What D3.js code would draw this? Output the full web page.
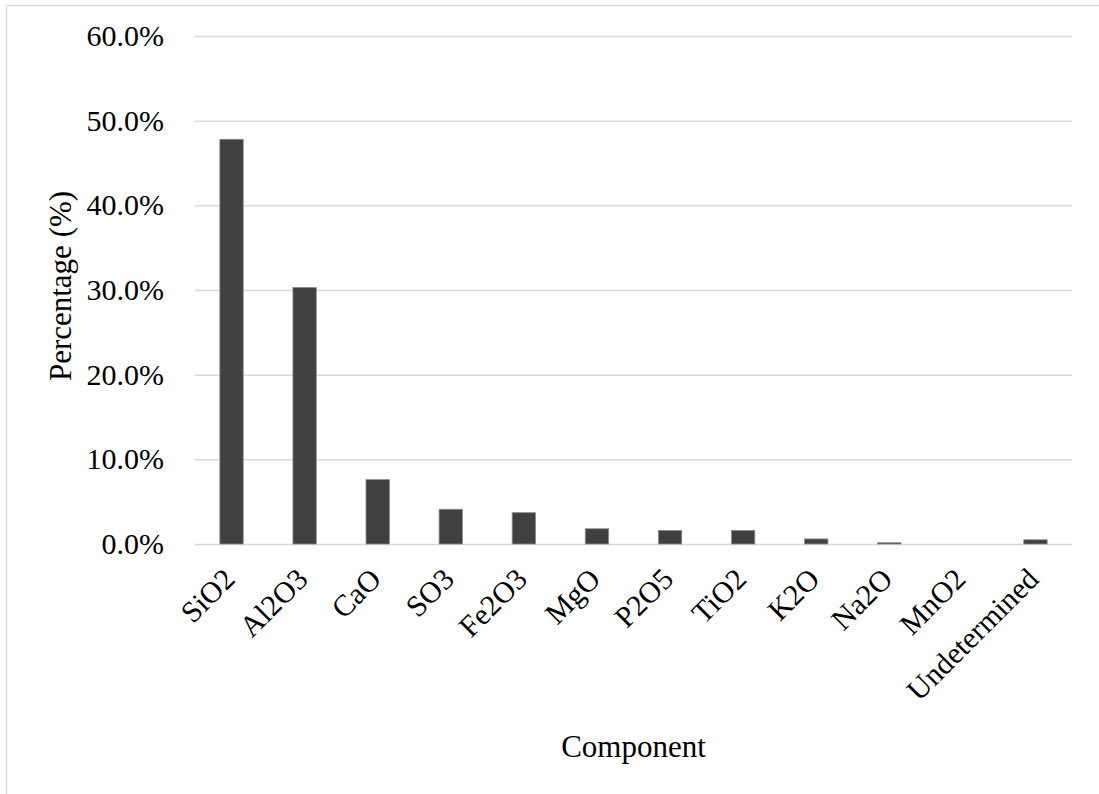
<!DOCTYPE html>
<html>
<head>
<meta charset="utf-8">
<script src="https://cdn.jsdelivr.net/npm/d3@7"></script>
<style>
  html, body { margin: 0; padding: 0; background: #fff; }
  svg { display: block; }
  text { font-family: "Liberation Serif", "Times New Roman", serif; fill: #000; }
</style>
</head>
<body>
<div id="chart"></div>
<script>
// Oxide composition (mass fraction, %)
const components = ["SiO2", "Al2O3", "CaO", "SO3", "Fe2O3", "MgO", "P2O5", "TiO2", "K2O", "Na2O", "MnO2", "Undetermined"];
const percentages = [47.8, 30.3, 7.6, 4.1, 3.7, 1.8, 1.6, 1.6, 0.6, 0.15, 0.0, 0.5];
const yTicks = [0, 10, 20, 30, 40, 50, 60];

const width = 1099, height = 794;
const plot = { left: 195, right: 1072, top: 36, bottom: 544 };

const svg = d3.select("#chart").append("svg")
  .attr("width", width)
  .attr("height", height);

// chart frame (top and left edges visible)
svg.append("line").attr("x1", 6.5).attr("x2", width).attr("y1", 5.5).attr("y2", 5.5)
  .attr("stroke", "#d9d9d9").attr("stroke-width", 1.5);
svg.append("line").attr("x1", 6.5).attr("x2", 6.5).attr("y1", 5.5).attr("y2", height)
  .attr("stroke", "#d9d9d9").attr("stroke-width", 1.5);

const x = d3.scaleBand()
  .domain(components)
  .range([plot.left, plot.right])
  .paddingInner(0.68)
  .paddingOuter(0.34);

const y = d3.scaleLinear()
  .domain([0, 60])
  .range([plot.bottom, plot.top]);

// horizontal gridlines + tick labels
const yAxis = d3.axisLeft(y)
  .tickValues(yTicks)
  .tickSize(-(plot.right - plot.left))
  .tickPadding(31)
  .tickFormat(d => d.toFixed(1) + "%");

const gy = svg.append("g")
  .attr("transform", `translate(${plot.left},0)`)
  .call(yAxis);
gy.select(".domain").remove();
gy.selectAll(".tick line").attr("stroke", "#d9d9d9").attr("stroke-width", 1.5);
gy.selectAll(".tick text")
  .attr("font-size", 30)
  .attr("font-family", "Liberation Serif, Times New Roman, serif")
  .attr("fill", "#000");

// bars
svg.append("g").selectAll("rect")
  .data(components.map((c, i) => ({ c, v: percentages[i] })))
  .join("rect")
  .attr("x", d => x(d.c))
  .attr("width", x.bandwidth())
  .attr("y", d => y(d.v))
  .attr("height", d => y(0) - y(d.v))
  .attr("fill", "#404040")
  .attr("stroke", "#8a8a8a")
  .attr("stroke-width", d => d.v > 0 ? 0.8 : 0);

// category labels, rotated
const xAxis = d3.axisBottom(x).tickSize(0).tickPadding(0);
const gx = svg.append("g")
  .attr("transform", `translate(0,${plot.bottom})`)
  .call(xAxis);
gx.select(".domain").remove();
gx.selectAll(".tick text")
  .attr("font-size", 30)
  .attr("font-family", "Liberation Serif, Times New Roman, serif")
  .attr("fill", "#000")
  .attr("text-anchor", "end")
  .attr("dy", null)
  .attr("y", null)
  .attr("transform", "translate(5,37) rotate(-45)");

// axis titles
svg.append("text")
  .attr("x", (plot.left + plot.right) / 2)
  .attr("y", 757)
  .attr("text-anchor", "middle")
  .attr("font-size", 31)
  .text("Component");

svg.append("text")
  .attr("transform", `translate(71,286) rotate(-90)`)
  .attr("text-anchor", "middle")
  .attr("font-size", 31)
  .text("Percentage (%)");
</script>
</body>
</html>
